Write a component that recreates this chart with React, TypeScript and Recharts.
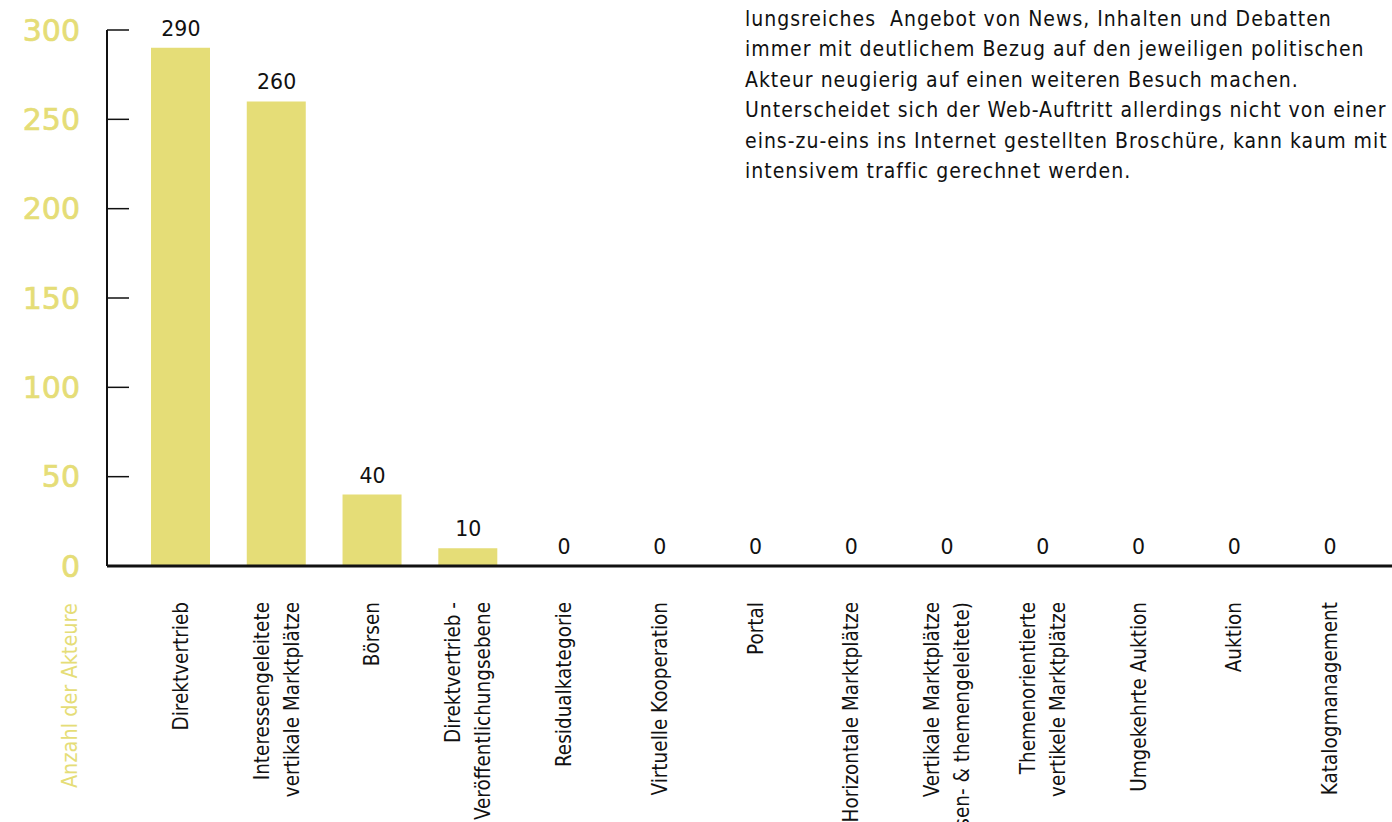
import React from "react";
import { ComposedChart, Bar, Scatter, XAxis, YAxis } from "recharts";

const categories = [
  "Direktvertrieb",
  "Interessengeleitete\nvertikale Marktplätze",
  "Börsen",
  "Direktvertrieb -\nVeröffentlichungsebene",
  "Residualkategorie",
  "Virtuelle Kooperation",
  "Portal",
  "Horizontale Marktplätze",
  "Vertikale Marktplätze\n(Interessen- & themengeleitete)",
  "Themenorientierte\nvertikele Marktplätze",
  "Umgekehrte Auktion",
  "Auktion",
  "Katalogmanagement",
];
const counts = [290, 260, 40, 10, 0, 0, 0, 0, 0, 0, 0, 0, 0];
const yTicks = [0, 50, 100, 150, 200, 250, 300];
const yAxisTitle = "Anzahl der Akteure";
const paragraphLines = [
  "lungsreiches  Angebot von News, Inhalten und Debatten",
  "immer mit deutlichem Bezug auf den jeweiligen politischen",
  "Akteur neugierig auf einen weiteren Besuch machen.",
  "Unterscheidet sich der Web-Auftritt allerdings nicht von einer",
  "eins-zu-eins ins Internet gestellten Broschüre, kann kaum mit",
  "intensivem traffic gerechnet werden.",
];

const data = categories.map((c, i) => ({ name: c, value: counts[i] }));

const YELLOW = "#e5dd77";
const COND = "'DejaVu Sans Condensed', 'DejaVu Sans', sans-serif";

const YTick = (props: any) => {
  const { x, y, payload } = props;
  return (
    <g>
      <line x1={x} x2={x + 22} y1={y} y2={y} stroke="#111" strokeWidth={1.5} />
      <text
        x={x - 27}
        y={y}
        dy="0.36em"
        textAnchor="end"
        fill={YELLOW}
        stroke={YELLOW}
        strokeWidth={0.7}
        fontSize={30}
        fontFamily="'DejaVu Sans', sans-serif"
      >
        {payload.value}
      </text>
    </g>
  );
};

const XTick = (props: any) => {
  const { x, payload } = props;
  const lines = String(payload.value).split("\n");
  const n = lines.length;
  return (
    <g transform={`translate(${x},602) rotate(-90)`}>
      {lines.map((l, i) => (
        <text
          key={i}
          x={0}
          y={7 + (i - (n - 1) / 2) * 30}
          textAnchor="end"
          fill="#111"
          fontSize={20.5}
          fontFamily={COND}
        >
          {l}
        </text>
      ))}
    </g>
  );
};

const ValueShape = (props: any) => {
  const { cx, cy, payload } = props;
  return (
    <text
      x={cx}
      y={cy - 12}
      textAnchor="middle"
      fill="#111"
      fontSize={20.5}
      fontFamily="'DejaVu Sans', sans-serif"
    >
      {payload.value}
    </text>
  );
};

export default function App() {
  return (
    <div
      style={{
        position: "absolute",
        left: 0,
        top: 0,
        width: 1392,
        height: 822,
        overflow: "hidden",
        background: "#fff",
      }}
    >
      <ComposedChart
        width={1392}
        height={822}
        data={data}
        margin={{ top: 30, right: 0, left: 0, bottom: 0 }}
      >
        <XAxis
          dataKey="name"
          interval={0}
          height={256}
          padding={{ left: 26, right: 14 }}
          tickLine={false}
          tickSize={0}
          tickMargin={0}
          axisLine={{ stroke: "#111", strokeWidth: 3 }}
          tick={<XTick />}
        />
        <YAxis
          width={107}
          domain={[0, 300]}
          ticks={yTicks}
          interval={0}
          tickLine={false}
          tickSize={0}
          tickMargin={0}
          axisLine={{ stroke: "#111", strokeWidth: 2 }}
          tick={<YTick />}
        />
        <Bar dataKey="value" fill={YELLOW} barSize={59} isAnimationActive={false} />
        <Scatter dataKey="value" shape={<ValueShape />} isAnimationActive={false} />
      </ComposedChart>
      <svg
        width={120}
        height={822}
        style={{ position: "absolute", left: 0, top: 0, pointerEvents: "none" }}
      >
        <text
          transform="translate(77,603) rotate(-90)"
          textAnchor="end"
          fill={YELLOW}
          fontSize={21.5}
          fontFamily={COND}
        >
          {yAxisTitle}
        </text>
      </svg>
      <div
        style={{
          position: "absolute",
          left: 745,
          top: 4,
          fontFamily: COND,
          fontSize: 21,
          letterSpacing: "1px",
          lineHeight: "30.4px",
          color: "#111",
          whiteSpace: "pre",
        }}
      >
        {paragraphLines.map((l, i) => (
          <div key={i}>{l}</div>
        ))}
      </div>
    </div>
  );
}
